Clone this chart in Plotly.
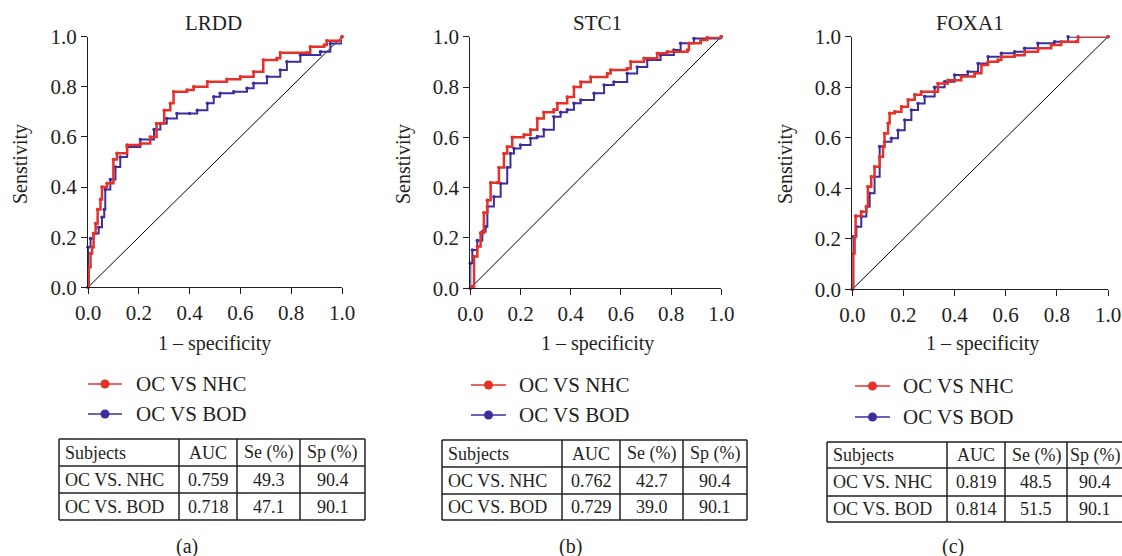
import plotly.graph_objects as go

W, H = 1122, 556
FONT = "Liberation Serif"
RED = "#e4322b"
BLUE = "#3b2f9f"

titles = ["LRDD", "STC1", "FOXA1"]
panel_labels = ["(a)", "(b)", "(c)"]
series_names = ["OC VS NHC", "OC VS BOD"]
tick_vals = [0.0, 0.2, 0.4, 0.6, 0.8, 1.0]

# ---- ROC curves ----
lrdd_nhc_x = [0, 0.003, 0.01, 0.016, 0.022, 0.03, 0.038, 0.049, 0.055, 0.075, 0.10, 0.114, 0.154, 0.206, 0.245, 0.27, 0.30, 0.324, 0.337, 0.39, 0.416, 0.47, 0.547, 0.60, 0.652, 0.69, 0.744, 0.757, 0.862, 0.875, 0.93, 0.94, 1.0]
lrdd_nhc_y = [0, 0.08, 0.135, 0.16, 0.215, 0.255, 0.31, 0.35, 0.40, 0.415, 0.51, 0.535, 0.568, 0.574, 0.60, 0.654, 0.707, 0.734, 0.78, 0.787, 0.80, 0.82, 0.83, 0.84, 0.86, 0.907, 0.914, 0.936, 0.936, 0.96, 0.967, 0.984, 1.0]
lrdd_bod_x = [0, 0, 0.01, 0.022, 0.042, 0.055, 0.064, 0.068, 0.088, 0.108, 0.127, 0.154, 0.206, 0.26, 0.285, 0.31, 0.35, 0.40, 0.43, 0.47, 0.495, 0.52, 0.574, 0.626, 0.652, 0.705, 0.757, 0.783, 0.836, 0.915, 0.954, 1.0]
lrdd_bod_y = [0, 0.16, 0.195, 0.215, 0.24, 0.28, 0.31, 0.39, 0.43, 0.48, 0.52, 0.56, 0.59, 0.63, 0.654, 0.674, 0.694, 0.694, 0.707, 0.734, 0.76, 0.774, 0.78, 0.794, 0.814, 0.84, 0.867, 0.90, 0.927, 0.94, 0.973, 1.0]

stc1_nhc_x = [0, 0.008, 0.015, 0.028, 0.041, 0.054, 0.054, 0.068, 0.081, 0.108, 0.114, 0.134, 0.147, 0.167, 0.214, 0.24, 0.267, 0.293, 0.333, 0.347, 0.386, 0.413, 0.44, 0.48, 0.546, 0.559, 0.625, 0.639, 0.692, 0.745, 0.785, 0.865, 0.871, 0.918, 0.944, 1.0]
stc1_nhc_y = [0, 0.007, 0.126, 0.166, 0.22, 0.23, 0.30, 0.35, 0.42, 0.42, 0.48, 0.536, 0.563, 0.60, 0.61, 0.63, 0.675, 0.70, 0.71, 0.735, 0.76, 0.80, 0.82, 0.84, 0.854, 0.868, 0.874, 0.90, 0.914, 0.934, 0.94, 0.947, 0.974, 0.987, 0.997, 1.0]
stc1_bod_x = [0, 0, 0.008, 0.028, 0.048, 0.061, 0.068, 0.094, 0.121, 0.147, 0.16, 0.174, 0.20, 0.24, 0.267, 0.293, 0.333, 0.36, 0.386, 0.413, 0.44, 0.493, 0.533, 0.572, 0.625, 0.665, 0.705, 0.758, 0.811, 0.838, 0.891, 1.0]
stc1_bod_y = [0, 0.10, 0.152, 0.19, 0.225, 0.245, 0.325, 0.364, 0.417, 0.48, 0.536, 0.556, 0.57, 0.596, 0.603, 0.63, 0.682, 0.70, 0.71, 0.735, 0.748, 0.775, 0.808, 0.82, 0.854, 0.88, 0.907, 0.927, 0.947, 0.974, 0.993, 1.0]

foxa1_nhc_x = [0, 0.003, 0.009, 0.013, 0.035, 0.055, 0.061, 0.074, 0.087, 0.107, 0.12, 0.126, 0.14, 0.146, 0.166, 0.192, 0.218, 0.244, 0.27, 0.322, 0.335, 0.374, 0.426, 0.479, 0.505, 0.531, 0.57, 0.583, 0.635, 0.674, 0.726, 0.778, 0.817, 0.876, 0.883, 1.0]
foxa1_nhc_y = [0, 0.142, 0.208, 0.29, 0.307, 0.327, 0.406, 0.446, 0.485, 0.525, 0.565, 0.617, 0.657, 0.697, 0.703, 0.723, 0.75, 0.77, 0.782, 0.782, 0.815, 0.828, 0.842, 0.855, 0.888, 0.901, 0.908, 0.921, 0.927, 0.94, 0.954, 0.967, 0.98, 0.98, 1.0, 1.0]
foxa1_bod_x = [0, 0.004, 0.016, 0.035, 0.055, 0.068, 0.087, 0.107, 0.126, 0.153, 0.179, 0.205, 0.231, 0.257, 0.283, 0.322, 0.361, 0.40, 0.452, 0.492, 0.531, 0.583, 0.635, 0.674, 0.726, 0.791, 0.844, 1.0]
foxa1_bod_y = [0, 0.208, 0.248, 0.288, 0.327, 0.38, 0.446, 0.565, 0.584, 0.598, 0.63, 0.67, 0.71, 0.736, 0.763, 0.80, 0.822, 0.848, 0.861, 0.894, 0.921, 0.934, 0.94, 0.954, 0.974, 0.98, 1.0, 1.0]

curves = [
    [(lrdd_nhc_x, lrdd_nhc_y), (lrdd_bod_x, lrdd_bod_y)],
    [(stc1_nhc_x, stc1_nhc_y), (stc1_bod_x, stc1_bod_y)],
    [(foxa1_nhc_x, foxa1_nhc_y), (foxa1_bod_x, foxa1_bod_y)],
]

# ---- table values ----
table_header = ["Subjects", "AUC", "Se (%)", "Sp (%)"]
table_subjects = ["OC VS. NHC", "OC VS. BOD"]
auc_values = [["0.759", "0.718"], ["0.762", "0.729"], ["0.819", "0.814"]]
se_values = [["49.3", "47.1"], ["42.7", "39.0"], ["48.5", "51.5"]]
sp_values = [["90.4", "90.1"], ["90.4", "90.1"], ["90.4", "90.1"]]


def px(x):
    return x / W


def py(y):
    return 1 - y / H


# layout geometry (pixels)
axes_px = [
    dict(x0=88, x1=342, y0=287.3, y1=36.7, ytitle_x=21, title_x=213, xtitle_x=214),
    dict(x0=470.3, x1=721.3, y0=288.3, y1=36.7, ytitle_x=404, title_x=597, xtitle_x=597),
    dict(x0=852.3, x1=1108, y0=289.3, y1=36.7, ytitle_x=786, title_x=970, xtitle_x=982),
]
legend_px = [
    dict(lx0=88, lx1=122, tx=134, y1=384, y2=414),
    dict(lx0=471, lx1=506, tx=517, y1=385, y2=415),
    dict(lx0=855, lx1=890, tx=901, y1=386, y2=417),
]
table_px = [
    dict(cols=[59, 179, 237, 300, 365], rows=[439, 466, 493, 520], last_cx=None),
    dict(cols=[442, 562, 620, 683, 747], rows=[440, 467, 494, 520], last_cx=None),
    dict(cols=[827, 947, 1005, 1067, 1132], rows=[442, 468, 496, 522], last_cx=1095),
]
label_px = [(187, 546), (570, 546), (953, 546)]

fig = go.Figure()
layout = dict(
    width=W, height=H, margin=dict(l=0, r=0, t=0, b=0, autoexpand=False),
    paper_bgcolor="white", plot_bgcolor="white", showlegend=False,
    font=dict(family=FONT, color="#231f20", size=20),
)
shapes = []
annotations = []

for i in range(3):
    g = axes_px[i]
    suffix = "" if i == 0 else str(i + 1)
    xa, ya = "x" + suffix, "y" + suffix
    axis_common = dict(
        range=[0, 1], tickvals=tick_vals, tickformat=".1f", showgrid=False,
        zeroline=False, showline=True, linecolor="#231f20", linewidth=1.2,
        ticks="outside", ticklen=6, tickwidth=1.2, tickcolor="#231f20",
        tickfont=dict(family=FONT, size=21, color="#231f20"), fixedrange=True,
        automargin=False,
    )
    layout["xaxis" + suffix] = dict(axis_common, domain=[px(g["x0"]), px(g["x1"])], anchor=ya)
    layout["yaxis" + suffix] = dict(axis_common, domain=[py(g["y0"]), py(g["y1"])], anchor=xa)

    # diagonal reference
    fig.add_trace(go.Scatter(x=[0, 1], y=[0, 1], mode="lines", xaxis=xa, yaxis=ya,
                             line=dict(color="black", width=1), hoverinfo="skip"))
    # BOD then NHC (red on top)
    (nx, ny), (bx, by) = curves[i]
    fig.add_trace(go.Scatter(x=bx, y=by, mode="lines+markers", xaxis=xa, yaxis=ya,
                             name=series_names[1], line=dict(color=BLUE, width=2, shape="hv"),
                             marker=dict(color=BLUE, size=3.5), cliponaxis=False))
    fig.add_trace(go.Scatter(x=nx, y=ny, mode="lines+markers", xaxis=xa, yaxis=ya,
                             name=series_names[0], line=dict(color=RED, width=2.5, shape="hv"),
                             marker=dict(color=RED, size=3.5), cliponaxis=False))

    # titles
    annotations.append(dict(text=titles[i], x=px(g["title_x"]), y=py(23), xref="paper", yref="paper",
                            showarrow=False, xanchor="center", yanchor="middle",
                            font=dict(family=FONT, size=21)))
    annotations.append(dict(text="1 \u2013 specificity", x=px(g["xtitle_x"]), y=py(343), xref="paper",
                            yref="paper", showarrow=False, xanchor="center", yanchor="middle",
                            font=dict(family=FONT, size=20)))
    annotations.append(dict(text="Senstivity", x=px(g["ytitle_x"]), y=py(164), xref="paper", yref="paper",
                            showarrow=False, textangle=-90, xanchor="center", yanchor="middle",
                            font=dict(family=FONT, size=20)))

    # legend (drawn manually)
    lg = legend_px[i]
    for name, col, yy in [(series_names[0], RED, lg["y1"]), (series_names[1], BLUE, lg["y2"])]:
        shapes.append(dict(type="line", xref="paper", yref="paper", x0=px(lg["lx0"]), x1=px(lg["lx1"]),
                           y0=py(yy), y1=py(yy), line=dict(color=col, width=1.5)))
        cx = (lg["lx0"] + lg["lx1"]) / 2
        shapes.append(dict(type="circle", xref="paper", yref="paper", xsizemode="pixel", ysizemode="pixel",
                           xanchor=px(cx), yanchor=py(yy), x0=-4.5, x1=4.5, y0=-4.5, y1=4.5,
                           fillcolor=col, line=dict(color=col, width=0)))
        annotations.append(dict(text=name, x=px(lg["tx"]), y=py(yy), xref="paper", yref="paper",
                                showarrow=False, xanchor="left", yanchor="middle",
                                font=dict(family=FONT, size=21)))

    # table
    t = table_px[i]
    cols, rows = t["cols"], t["rows"]
    for c in cols:
        shapes.append(dict(type="line", xref="paper", yref="paper", x0=px(c), x1=px(c),
                           y0=py(rows[0]), y1=py(rows[-1]), line=dict(color="#231f20", width=1.5)))
    for r in rows:
        shapes.append(dict(type="line", xref="paper", yref="paper", x0=px(cols[0]), x1=px(cols[-1]),
                           y0=py(r), y1=py(r), line=dict(color="#231f20", width=1.5)))
    table_rows = [table_header] + [[table_subjects[k], auc_values[i][k], se_values[i][k], sp_values[i][k]]
                                   for k in range(2)]
    for ri, row in enumerate(table_rows):
        yc = (rows[ri] + rows[ri + 1]) / 2
        for ci, txt in enumerate(row):
            if ci == 0:
                xx, anchor = cols[0] + 4, "left"
            elif ci == 3 and t["last_cx"] is not None:
                xx, anchor = t["last_cx"], "center"
            else:
                xx, anchor = (cols[ci] + cols[ci + 1]) / 2, "center"
            annotations.append(dict(text=txt, x=px(xx), y=py(yc), xref="paper", yref="paper",
                                    showarrow=False, xanchor=anchor, yanchor="middle",
                                    font=dict(family=FONT, size=18)))

    # panel label
    lx, ly = label_px[i]
    annotations.append(dict(text=panel_labels[i], x=px(lx), y=py(ly), xref="paper", yref="paper",
                            showarrow=False, xanchor="center", yanchor="middle",
                            font=dict(family=FONT, size=20)))

layout["shapes"] = shapes
layout["annotations"] = annotations
fig.update_layout(**layout)
fig.write_html("out.html")
